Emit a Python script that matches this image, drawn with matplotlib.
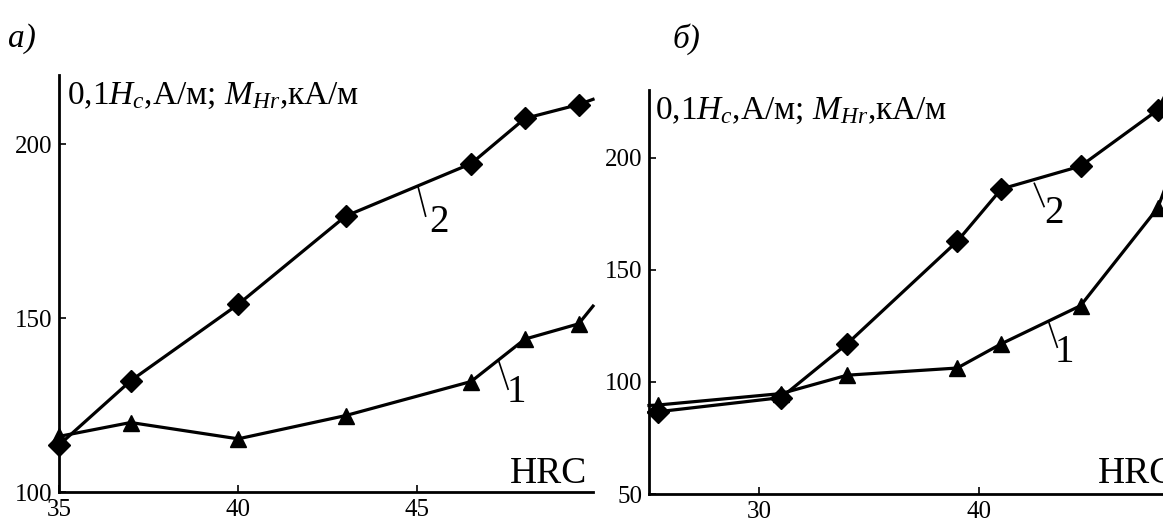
import numpy as np
import matplotlib.pyplot as plt

plt.rcParams['font.family'] = ['Liberation Serif', 'DejaVu Serif']
plt.rcParams['mathtext.fontset'] = 'custom'
plt.rcParams['mathtext.rm'] = 'Liberation Serif'
plt.rcParams['mathtext.it'] = 'Liberation Serif:italic'

# panel a) -- curve 1 (triangles), curve 2 (diamonds); last point = where line leaves the frame
hrc_a = [35.0, 37.0, 40.0, 43.0, 46.5, 48.0, 49.5, 49.9]
c1_a = [116.0, 120.0, 115.3, 122.0, 131.8, 144.0, 148.4, 153.5]
c2_a = [113.5, 132.0, 154.0, 179.4, 194.5, 207.5, 211.5, 213.0]

# panel б) -- first and last point = where line meets the frame
hrc_b = [25.0, 25.4, 31.0, 34.0, 39.0, 41.0, 44.6, 48.1, 48.5]
c1_b = [89.5, 89.7, 94.8, 103.0, 106.2, 117.0, 134.0, 177.5, 188.0]
c2_b = [86.4, 86.7, 93.0, 117.0, 162.7, 186.0, 196.2, 221.2, 229.0]

ylabel = '0,1$H_c$,А/м; $M_{Hr}$,кА/м'

fig = plt.figure(figsize=(11.63, 5.19), dpi=100)
ax0 = fig.add_axes([0.0507, 0.052, 0.4592, 0.8035])
ax1 = fig.add_axes([0.558, 0.048, 0.445, 0.778])

lw = 2.3
ms_tri = 12
ms_dia = 11

ax0.plot(hrc_a, c1_a, '-^', color='black', lw=lw, ms=ms_tri, markevery=slice(0, -1), clip_on=False)
ax0.plot(hrc_a, c2_a, '-D', color='black', lw=lw, ms=ms_dia, markevery=slice(0, -1), clip_on=False)
ax0.set_xlim(35, 49.9)
ax0.set_ylim(100, 220)
ax0.set_xticks([35, 40, 45])
ax0.set_yticks([100, 150, 200])

ax1.plot(hrc_b, c1_b, '-^', color='black', lw=lw, ms=ms_tri, markevery=slice(1, -1), clip_on=False)
ax1.plot(hrc_b, c2_b, '-D', color='black', lw=lw, ms=ms_dia, markevery=slice(1, -1), clip_on=False)
ax1.set_xlim(25, 48.5)
ax1.set_ylim(50, 230)
ax1.set_xticks([30, 40])
ax1.set_yticks([50, 100, 150, 200])

for ax in (ax0, ax1):
	for s in ('top', 'right'):
		ax.spines[s].set_visible(False)
	for s in ('left', 'bottom'):
		ax.spines[s].set_linewidth(2.0)
	ax.tick_params(direction='in', length=5, width=1.2, labelsize=18, pad=5)
	ax.patch.set_alpha(0)

ax0.text(0.015, 0.93, ylabel, transform=ax0.transAxes, fontsize=24, va='baseline', ha='left')
ax1.text(0.012, 0.929, ylabel, transform=ax1.transAxes, fontsize=24, va='baseline', ha='left')
ax0.text(0.989, 0.022, 'HRC', transform=ax0.transAxes, fontsize=27, ha='right', va='baseline')
ax1.text(1.016, 0.027, 'HRC', transform=ax1.transAxes, fontsize=27, ha='right', va='baseline')

# curve numbers with leader lines
ax0.plot([45.02, 45.23], [187.8, 179.4], color='black', lw=1.2)
ax0.text(45.6, 177.5, '2', fontsize=28, ha='center', va='center')
ax0.plot([47.26, 47.53], [138.0, 129.6], color='black', lw=1.2)
ax0.text(47.75, 128.6, '1', fontsize=28, ha='center', va='center')
ax1.plot([42.5, 42.94], [188.5, 178.2], color='black', lw=1.2)
ax1.text(43.37, 175.2, '2', fontsize=28, ha='center', va='center')
ax1.plot([43.16, 43.54], [126.5, 115.5], color='black', lw=1.2)
ax1.text(43.88, 113.3, '1', fontsize=28, ha='center', va='center')

fig.text(0.007, 0.925, 'а)', fontsize=24, style='italic', ha='left', va='center')
fig.text(0.578, 0.925, 'б)', fontsize=24, style='italic', ha='left', va='center')

fig.savefig('out.png', dpi=100)
